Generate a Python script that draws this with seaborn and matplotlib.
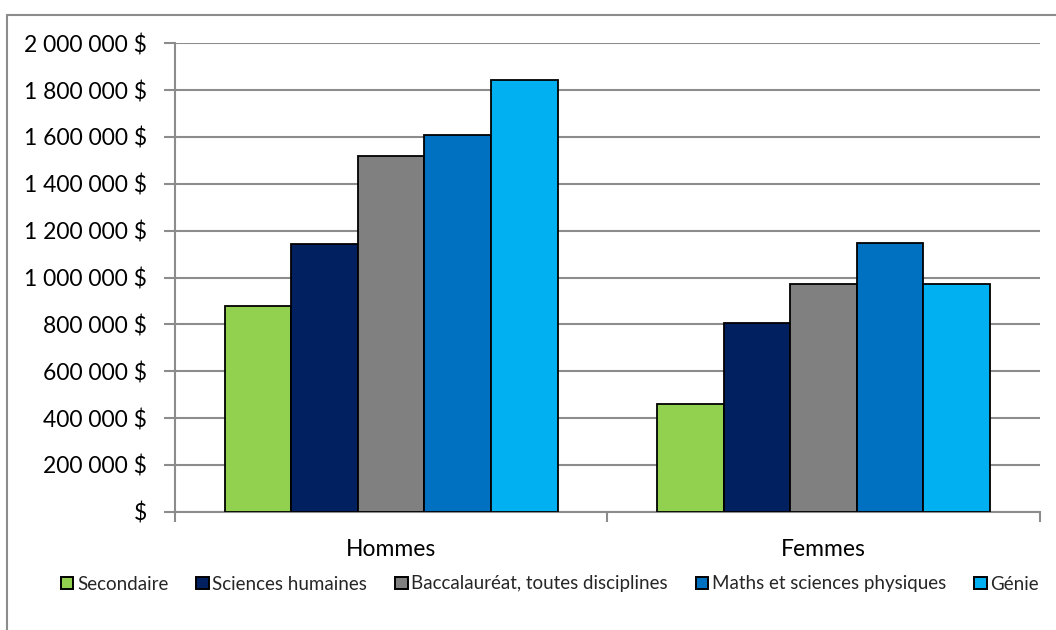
import matplotlib
matplotlib.use("Agg")
import matplotlib.pyplot as plt
import matplotlib.patches as mpatches
from matplotlib.ticker import FuncFormatter, FixedLocator
import seaborn as sns
import pandas as pd

# Revenus sur la carrière selon le niveau de scolarité
sexes = ["Hommes", "Femmes"]
niveaux = ["Secondaire", "Sciences humaines", "Baccalauréat, toutes disciplines",
           "Maths et sciences physiques", "Génie"]
hommes = [880000, 1145000, 1518000, 1607000, 1843000]
femmes = [460000, 807000, 971000, 1149000, 971000]
couleurs = ["#92D050", "#002060", "#808080", "#0070C0", "#00B0F0"]

rows = []
for sexe, vals in zip(sexes, [hommes, femmes]):
    for niv, v in zip(niveaux, vals):
        rows.append({"Sexe": sexe, "Niveau": niv, "Revenu": v})
df = pd.DataFrame(rows)

sns.set_theme(style="white")
plt.rcParams["font.family"] = ["Lato", "DejaVu Sans"]

fig = plt.figure(figsize=(10.56, 6.3), dpi=100)
ax = fig.add_axes([175 / 1056, 1 - 511.7 / 630, (1039.5 - 175) / 1056, (511.7 - 43.3) / 630])

sns.barplot(data=df, x="Sexe", y="Revenu", hue="Niveau", order=sexes,
            hue_order=niveaux, palette=couleurs, width=0.77, ax=ax,
            edgecolor="black", linewidth=1.3, saturation=1, legend=False,
            errorbar=None, zorder=3)

ax.set_xlim(-0.5, 1.5)
ax.set_ylim(0, 2000000)
ax.set_yticks(range(0, 2000001, 200000))


def fmt(v, _):
    if v == 0:
        return "$"
    return f"{int(v):,}".replace(",", " ") + " $"


ax.yaxis.set_major_formatter(FuncFormatter(fmt))
ax.yaxis.grid(True, color="#8c8c8c", linewidth=1.5, zorder=0)
ax.set_axisbelow(True)
ax.set_xlabel("")
ax.set_ylabel("")

for side in ["top", "right"]:
    ax.spines[side].set_visible(False)
for side in ["left", "bottom"]:
    ax.spines[side].set_color("#8c8c8c")
    ax.spines[side].set_linewidth(1.5)

ax.tick_params(axis="y", which="major", length=8, width=1.5, color="#8c8c8c",
               labelsize=16.5, pad=12, labelcolor="black", left=True)
ax.tick_params(axis="x", which="major", length=0, labelsize=16.5, pad=20,
               labelcolor="black")
ax.xaxis.set_minor_locator(FixedLocator([-0.5, 0.5, 1.5]))
ax.tick_params(axis="x", which="minor", length=7, width=1.5, color="#8c8c8c",
               bottom=True)

handles = [mpatches.Patch(facecolor=c, edgecolor="black", linewidth=1.4, label=n)
           for c, n in zip(couleurs, niveaux)]
fig.legend(handles=handles, loc="center", bbox_to_anchor=(550 / 1056, 1 - 584 / 630),
           ncol=5, frameon=False, fontsize=13.5, handlelength=0.65, handleheight=0.65,
           handletextpad=0.2, columnspacing=1.5, borderaxespad=0)

# cadre du graphique
fig.patches.append(mpatches.Rectangle((7 / 1056, -0.05), 1.1, 1 - 15 / 630 + 0.05,
                                      transform=fig.transFigure, fill=False,
                                      edgecolor="#8c8c8c", linewidth=1.5))

fig.savefig("out.png", dpi=100)
